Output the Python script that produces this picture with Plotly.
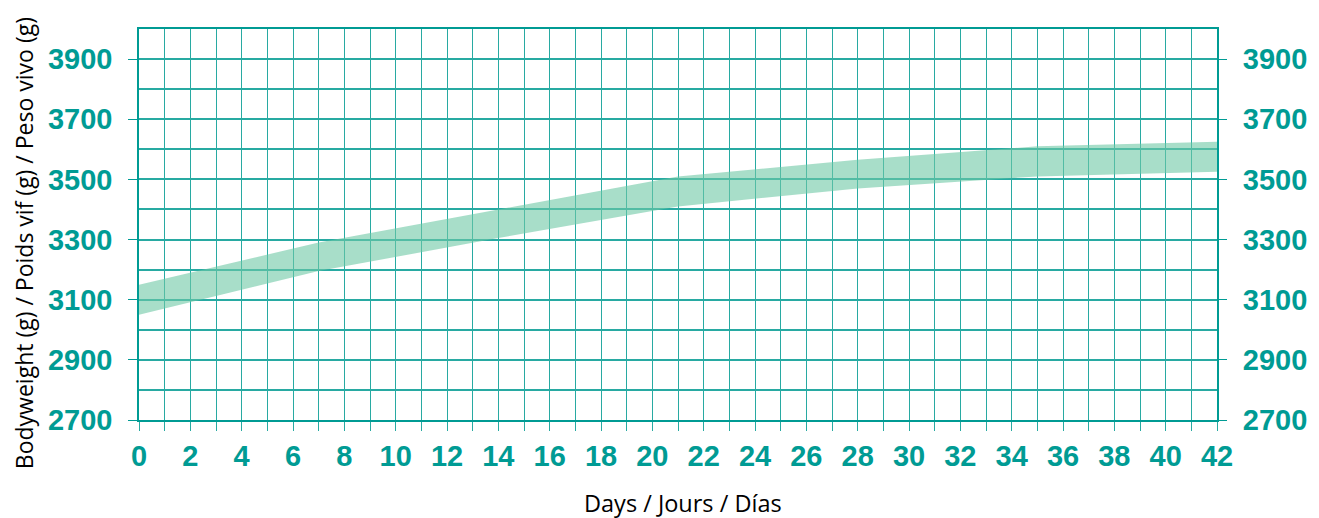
import plotly.graph_objects as go

days = [0, 7, 14, 21, 28, 35, 42]
lower = [3050, 3195, 3305, 3410, 3470, 3510, 3525]
upper = [3150, 3290, 3400, 3510, 3565, 3610, 3625]

x_title = "Days / Jours / Días"
y_title = "Bodyweight (g) / Poids vif (g) / Peso vivo (g)"

TEAL = "rgb(0,155,148)"
GRID = "rgb(40,170,162)"
BAND = "rgba(110,200,165,0.6)"

fig = go.Figure()
fig.add_trace(go.Scatter(x=days, y=lower, mode="lines", line=dict(width=0, color=BAND),
                         hoverinfo="skip", showlegend=False))
fig.add_trace(go.Scatter(x=days, y=upper, mode="lines", line=dict(width=0, color=BAND),
                         fill="tonexty", fillcolor=BAND, hoverinfo="skip", showlegend=False))
fig.add_trace(go.Scatter(x=days, y=upper, mode="lines", line=dict(width=0),
                         opacity=0, yaxis="y2", hoverinfo="skip", showlegend=False))

tickfont = dict(family="Liberation Sans, Arial, sans-serif", size=29, color=TEAL, weight="bold")

fig.update_layout(
    width=1311, height=510,
    margin=dict(l=131, r=102, t=21, b=98, autoexpand=False),
    plot_bgcolor="white", paper_bgcolor="white",
    xaxis=dict(
        range=[0, 42], tick0=0, dtick=2, showgrid=True, gridcolor=GRID, gridwidth=1,
        ticks="outside", ticklen=9, tickcolor=GRID, tickwidth=1,
        minor=dict(dtick=1, showgrid=True, gridcolor=GRID, gridwidth=1,
                   ticks="outside", ticklen=9, tickcolor=GRID),
        showline=True, linecolor=TEAL, linewidth=1.5, mirror=True,
        tickfont=tickfont, ticklabelstandoff=0, zeroline=False, fixedrange=True,
    ),
    yaxis=dict(
        range=[2700, 4000], tick0=2700, dtick=200, showgrid=True, gridcolor=GRID, gridwidth=1.5,
        ticks="outside", ticklen=9, tickcolor=TEAL, tickwidth=1,
        minor=dict(dtick=100, showgrid=True, gridcolor=GRID, gridwidth=1.5),
        showline=True, linecolor=TEAL, linewidth=1.5, mirror=True,
        tickfont=tickfont, ticklabelstandoff=10, zeroline=False, fixedrange=True,
    ),
    yaxis2=dict(
        range=[2700, 4000], tick0=2700, dtick=200, overlaying="y", side="right",
        showgrid=False, minor=dict(showgrid=False),
        ticks="outside", ticklen=9, tickcolor=TEAL, tickwidth=1,
        tickfont=tickfont, ticklabelstandoff=10, zeroline=False, fixedrange=True,
        showline=False,
    ),
    annotations=[
        dict(text=x_title, xref="paper", yref="paper", x=0.5046, y=-0.2123,
             showarrow=False, xanchor="center", yanchor="middle",
             font=dict(family="Open Sans, sans-serif", size=23.5, color="black")),
        dict(text=y_title, xref="paper", yref="paper", x=-0.1065, y=0.4527,
             textangle=-90, showarrow=False, xanchor="center", yanchor="middle",
             font=dict(family="Open Sans, sans-serif", size=23, color="black")),
    ],
)

fig.write_html("out.html")
